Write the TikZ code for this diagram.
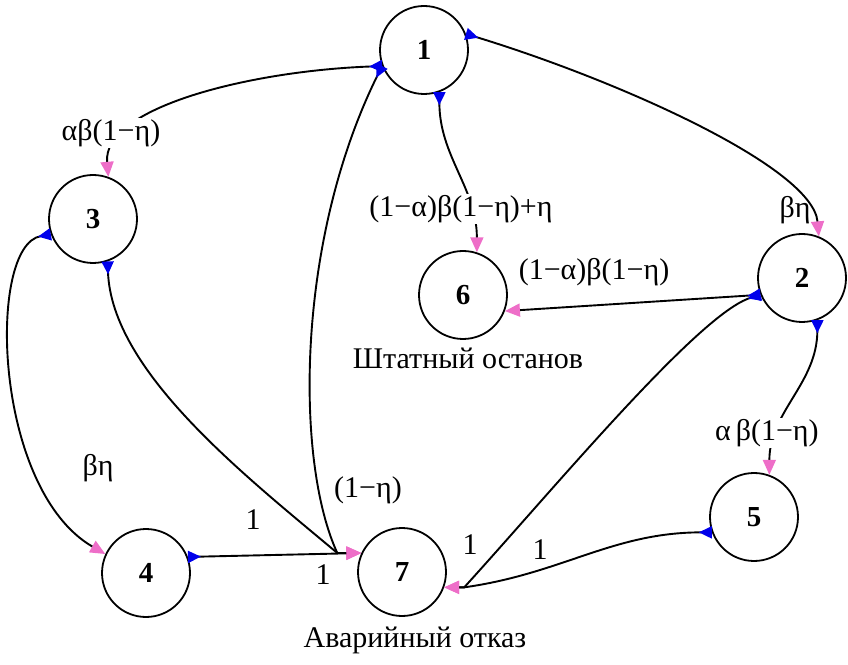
\documentclass[tikz,border=0pt]{standalone}
\usepackage{fontspec}
\setmainfont{Liberation Serif}
\usetikzlibrary{arrows.meta}
\definecolor{tipblue}{RGB}{0,0,235}
\definecolor{tippink}{RGB}{238,110,200}
\tikzstyle{state} = [circle, minimum size=88pt, inner sep=0pt, draw=black, line width=1.8pt, font=\fontsize{29}{34}\selectfont\bfseries]
\tikzstyle{lbl} = [inner sep=1pt, font=\fontsize{30}{34}\selectfont]
\tikzstyle{trans} = [line width=1.9pt, {Triangle[reversed,length=13pt,width=12pt,color=tipblue,fill=tipblue]}-{Triangle[length=15pt,width=13pt,color=tippink,fill=tippink]}]

\begin{document}
\begin{tikzpicture}[x=1pt, y=1pt]
      \useasboundingbox (0,0) rectangle (848,664);
      % Nodes
      \node (s1) [state] at (424,614) {1};
      \node (s2) [state] at (802,386) {2};
      \node (s3) [state] at (93,445) {3};
      \node (s4) [state] at (146,91) {4};
      \node (s5) [state] at (754,147) {5};
      \node (s6) [state] at (463,369) {6};
      \node (s7) [state] at (402,92) {7};
      \node (cap6) [lbl] at (468,306) {Штатный останов};
      \node (cap7) [lbl] at (415,24) {Аварийный отказ};
      \node (l12) [lbl] at (795,454) {βη};
      \node (l26) [lbl] at (594,392) {(1−α)β(1−η)};
      \node (l34) [lbl] at (98,196) {βη};
      \node (l17) [lbl] at (368,174) {(1−η)};
      \node (l47) [lbl] at (253,144) {1};
      \node (l37) [lbl] at (323,89) {1};
      \node (l27) [lbl] at (470,119) {1};
      \node (l57) [lbl] at (540,114) {1};
      % Arrows
      \draw [trans] (s1.201) .. controls +(182:130) and +(95:70) .. node[lbl, fill=white, pos=0.8, xshift=-11pt, yshift=6pt] (l13) {αβ(1−η)} (s3.70);
      \draw [trans] (s1.290) to[out=270, in=90] node[lbl, fill=white, pos=0.75, xshift=-10pt] (l16) {(1−α)β(1−η)+η} (s6.72);
      \draw [trans] (s1.21) .. controls +(-17:162) and +(95:69) .. (s2.68);
      \draw [trans] (s1.201) .. controls +(243.7:196) and +(114.8:100) .. ([xshift=-24pt]s7.155) -- (s7.155);
      \draw [trans] (s2.202) -- (s6.339);
      \draw [trans] (s2.202) .. controls +(197:64) and +(47.7:134) .. ([xshift=20pt]s7.340) -- (s7.340);
      \draw [trans] (s2.290) to[out=270, in=90] node[lbl, fill=white, pos=0.75, xshift=-10pt] (l25) {α\,β(1−η)} (s5.70);
      \draw [trans] (s3.289) .. controls +(272:110) and +(140:120) .. ([xshift=-24pt]s7.155) -- (s7.155);
      \draw [trans] (s3.200) .. controls +(190:65) and +(150:130) .. (s4.155);
      \draw [trans] (s4.21) -- (s7.155);
      \draw [trans] (s5.200) to[out=180, in=8] ([xshift=20pt]s7.340) -- (s7.340);
    \end{tikzpicture}
\end{document}
